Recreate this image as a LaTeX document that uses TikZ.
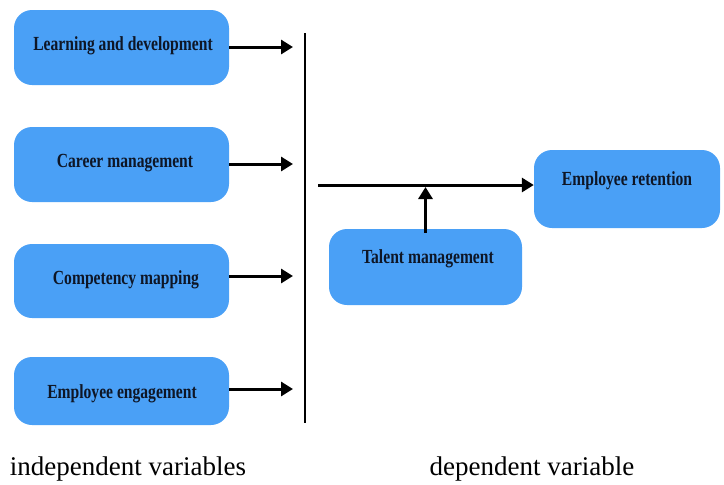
\documentclass[tikz,border=0pt]{standalone}
\usepackage{fontspec}
\setmainfont{Liberation Serif}
\newfontfamily\boxfont{Liberation Serif}[FakeStretch=0.78]
\usetikzlibrary{arrows.meta,calc}
\definecolor{boxblue}{RGB}{74,160,246}
\definecolor{txtdark}{RGB}{14,22,38}
\tikzset{
  vbox/.style={draw=none, fill=boxblue, rounded corners=18pt, inner sep=0pt},
  boxtxt/.style={font=\boxfont\bfseries\fontsize{20}{23}\selectfont, text=txtdark, inner sep=0pt},
  arr/.style={line width=3pt, -{Triangle[length=12pt,width=14pt]}},
  bar/.style={line width=2.5pt},
  caption/.style={font=\fontsize{27}{31}\selectfont, text=black, inner sep=0pt}
}
\begin{document}
\begin{tikzpicture}[x=1pt,y=-1pt]
\useasboundingbox (0,0) rectangle (724,485);
% independent boxes
\node[vbox, minimum width=215pt, minimum height=75pt] (b1) at (121.5,47.5) {};
\node[vbox, minimum width=215pt, minimum height=75pt] (b2) at (121.5,164.5) {};
\node[vbox, minimum width=215pt, minimum height=74pt] (b3) at (121.5,281) {};
\node[vbox, minimum width=215pt, minimum height=68pt] (b4) at (121.5,391) {};
\node[boxtxt] (t1) at (123,46) {Learning and development};
\node[boxtxt] (t2) at (125,163) {Career management};
\node[boxtxt] (t3) at (126,280) {Competency mapping};
\node[boxtxt] (t4) at (122,394) {Employee engagement};
% arrow tips
\coordinate (e1) at (293,47);
\coordinate (e2) at (293,164);
\coordinate (e3) at (293,276);
\coordinate (e4) at (293,389);
\draw[arr] (b1.east |- e1) -- (e1);
\draw[arr] (b2.east |- e2) -- (e2);
\draw[arr] (b3.east |- e3) -- (e3);
\draw[arr] (b4.east |- e4) -- (e4);
% vertical bar
\coordinate (vtop) at (305,33);
\coordinate (vbot) at (305,423);
\draw[bar] (vtop) -- (vbot);
% dependent side
\node[vbox, minimum width=193pt, minimum height=76pt] (tal) at (425.5,267) {};
\node[boxtxt] (ttal) at (428,259) {Talent management};
\node[vbox, minimum width=186pt, minimum height=78pt] (ret) at (627,189) {};
\node[boxtxt] (tret) at (627,181) {Employee retention};
\coordinate (h0) at (318,185);
\draw[arr] (h0) -- (h0 -| ret.west);
\draw[arr] ($(tal.north)+(0,4)$) -- ($(tal.north |- h0)+(0,2)$);
% captions
\node[caption] (c1) at (128,469) {independent variables};
\node[caption] (c2) at (532,469) {dependent variable};
\end{tikzpicture}
\end{document}
